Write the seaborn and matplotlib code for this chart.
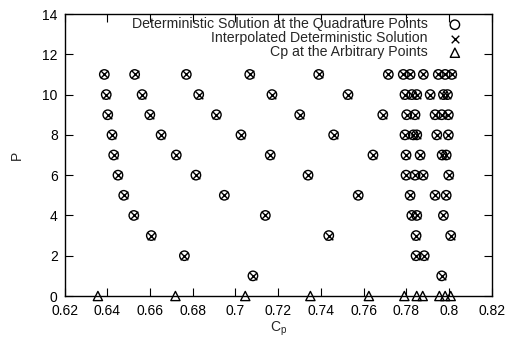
import matplotlib
matplotlib.use("Agg")
import matplotlib.pyplot as plt
import seaborn as sns
import pandas as pd

# Cp values at the quadrature points, one list per polynomial order P
cp_p1 = [0.7082, 0.7966]
cp_p2 = [0.6761, 0.7846, 0.7884]
cp_p3 = [0.6606, 0.7437, 0.7846, 0.8008]
cp_p4 = [0.6524, 0.7140, 0.7826, 0.7849, 0.7974]
cp_p5 = [0.6477, 0.6948, 0.7575, 0.7818, 0.7935, 0.7987]
cp_p6 = [0.6450, 0.6815, 0.7340, 0.7799, 0.7841, 0.7879, 0.7999]
cp_p7 = [0.6430, 0.6723, 0.7163, 0.7644, 0.7799, 0.7865, 0.7968, 0.7987]
cp_p8 = [0.6422, 0.6652, 0.7026, 0.7460, 0.7794, 0.7833, 0.7849, 0.7943, 0.7997]
cp_p9 = [0.6402, 0.6599, 0.6911, 0.7301, 0.7690, 0.7802, 0.7841, 0.7935, 0.7966, 0.7997]
cp_p10 = [0.6395, 0.6563, 0.6828, 0.7171, 0.7527, 0.7794, 0.7826, 0.7849, 0.7912, 0.7974, 0.7993]
cp_p11 = [0.6386, 0.6528, 0.6770, 0.7067, 0.7390, 0.7716, 0.7786, 0.7818, 0.7880, 0.7950, 0.7982, 0.8013]

# Cp at arbitrary points (P = 0)
cp_arbitrary = [0.6356, 0.6719, 0.7046, 0.7351, 0.7625, 0.7791, 0.7849, 0.7877, 0.7955, 0.7982, 0.8008]

orders = [1, 2, 3, 4, 5, 6, 7, 8, 9, 10, 11]
quad_lists = [cp_p1, cp_p2, cp_p3, cp_p4, cp_p5, cp_p6, cp_p7, cp_p8, cp_p9, cp_p10, cp_p11]

x_ticks = [0.62, 0.64, 0.66, 0.68, 0.7, 0.72, 0.74, 0.76, 0.78, 0.8, 0.82]
x_tick_labels = ["0.62", "0.64", "0.66", "0.68", "0.7", "0.72", "0.74", "0.76", "0.78", "0.8", "0.82"]
y_ticks = [0, 2, 4, 6, 8, 10, 12, 14]

rows = []
for p, vals in zip(orders, quad_lists):
    for v in vals:
        rows.append({"Cp": v, "P": p})
quad_df = pd.DataFrame(rows)
arb_df = pd.DataFrame({"Cp": cp_arbitrary, "P": [0] * len(cp_arbitrary)})

sns.set_style("ticks")
plt.rcParams["font.family"] = ["Liberation Sans", "DejaVu Sans"]
plt.rcParams["font.size"] = 10
plt.rcParams["mathtext.fontset"] = "custom"
plt.rcParams["mathtext.rm"] = "Liberation Sans"
plt.rcParams["mathtext.it"] = "Liberation Sans"

fig = plt.figure(figsize=(5.07, 3.42), dpi=100)
ax = fig.add_axes([0.1274, 0.1345, 0.8424, 0.8245])

sns.scatterplot(data=quad_df, x="Cp", y="P", ax=ax, marker="o", s=46,
                facecolors="none", edgecolor="black", linewidth=1.0,
                label="Deterministic Solution at the Quadrature Points", zorder=3)
sns.scatterplot(data=quad_df, x="Cp", y="P", ax=ax, marker="x", s=30,
                color="black", linewidth=1.0,
                label="Interpolated Deterministic Solution", zorder=4)
sns.scatterplot(data=arb_df, x="Cp", y="P", ax=ax, marker="^", s=44,
                facecolors="none", edgecolor="black", linewidth=1.0,
                label="Cp at the Arbitrary Points", zorder=5, clip_on=False)

ax.set_xlim(0.62, 0.82)
ax.set_ylim(0, 14)
ax.set_xticks(x_ticks)
ax.set_xticklabels(x_tick_labels)
ax.set_yticks(y_ticks)
ax.set_xlabel(r"C$_\mathregular{p}$", fontsize=10, labelpad=1)
ax.set_ylabel("P", fontsize=10, labelpad=13)

ax.tick_params(direction="in", length=5.5, width=0.8, top=True, right=True,
               labelsize=10, colors="black")
ax.tick_params(axis="x", pad=6)
ax.tick_params(axis="y", pad=5)
for s in ax.spines.values():
    s.set_visible(True)
    s.set_linewidth(1.0)
    s.set_color("black")

leg = ax.legend(loc="upper right", bbox_to_anchor=(0.947, 1.008), frameon=False,
                markerfirst=False, fontsize=10.2, handletextpad=1.3,
                labelspacing=0.0, borderaxespad=0.0, handlelength=1.2)

fig.savefig("out.png", dpi=100)
